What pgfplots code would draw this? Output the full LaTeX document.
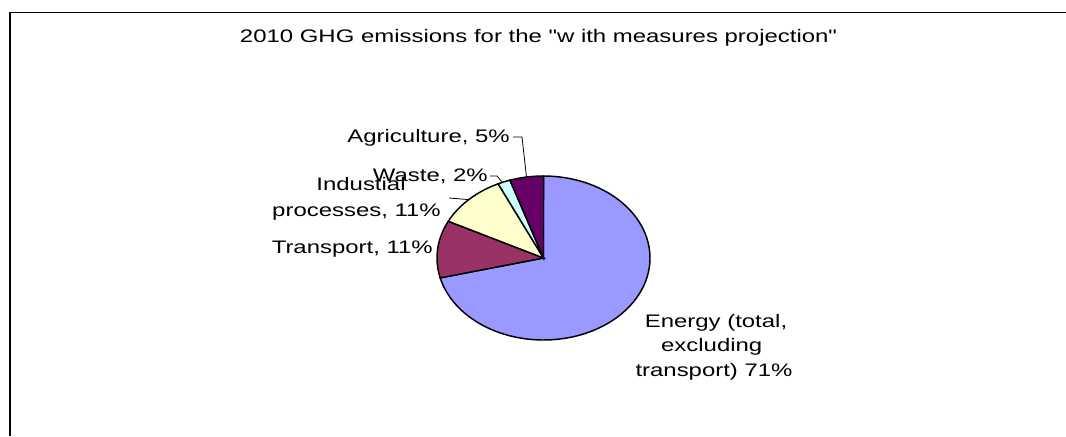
\documentclass[border=0pt]{standalone}
\usepackage{pgfplots}
\pgfplotsset{compat=1.18}
\usepackage{fontspec}
\setmainfont{Liberation Sans}[FakeStretch=1.32, Ligatures=TeXOff]
\newcommand\cf{\fontsize{13.6pt}{18pt}\selectfont}
\tikzset{lbl/.style={inner sep=0, font=\cf}}
\definecolor{cEnergy}{HTML}{9999FF}
\definecolor{cTransport}{HTML}{993366}
\definecolor{cIndustrial}{HTML}{FFFFCC}
\definecolor{cWaste}{HTML}{CCFFFF}
\definecolor{cAgri}{HTML}{660066}
% shares in percent
\def\vEnergy{71.1}
\def\vTransport{11.3}
\def\vIndustrial{10.6}
\def\vWaste{1.9}
\def\vAgri{5.1}
% pie geometry (pixel units)
\def\cx{543.5}
\def\cy{258}
\def\rx{106.5}
\def\ry{82}
\pgfmathsetmacro\aA{90}
\pgfmathsetmacro\aB{\aA-3.6*\vEnergy}
\pgfmathsetmacro\aC{\aB-3.6*\vTransport}
\pgfmathsetmacro\aD{\aC-3.6*\vIndustrial}
\pgfmathsetmacro\aE{\aD-3.6*\vWaste}
\pgfmathsetmacro\aF{\aE-3.6*\vAgri}
\begin{document}
\begin{tikzpicture}
\useasboundingbox (0,0) rectangle (799.5pt,327pt);
\begin{axis}[
  at={(0,0)}, anchor=south west,
  scale only axis, width=799.5pt, height=327pt,
  xmin=0, xmax=1066, ymin=0, ymax=436, y dir=reverse,
  hide axis, clip=false,
]
\draw[black, line width=1pt] (axis cs:10,436) -- (axis cs:10,12.3) -- (axis cs:1066,12.3);
\addplot[fill=cEnergy, draw=black, line width=1.1pt, domain=\aB:\aA, samples=100, variable=\t]
  ({\cx+\rx*cos(t)},{\cy-\ry*sin(t)}) -- (axis cs:\cx,\cy) -- cycle;
\addplot[fill=cTransport, draw=black, line width=1.1pt, domain=\aC:\aB, samples=30, variable=\t]
  ({\cx+\rx*cos(t)},{\cy-\ry*sin(t)}) -- (axis cs:\cx,\cy) -- cycle;
\addplot[fill=cIndustrial, draw=black, line width=1.1pt, domain=\aD:\aC, samples=30, variable=\t]
  ({\cx+\rx*cos(t)},{\cy-\ry*sin(t)}) -- (axis cs:\cx,\cy) -- cycle;
\addplot[fill=cWaste, draw=black, line width=1.1pt, domain=\aE:\aD, samples=10, variable=\t]
  ({\cx+\rx*cos(t)},{\cy-\ry*sin(t)}) -- (axis cs:\cx,\cy) -- cycle;
\addplot[fill=cAgri, draw=black, line width=1.1pt, domain=\aF:\aE, samples=15, variable=\t]
  ({\cx+\rx*cos(t)},{\cy-\ry*sin(t)}) -- (axis cs:\cx,\cy) -- cycle;
% leader lines
\draw[black, line width=0.6pt] (axis cs:513,137) -- (axis cs:522,137) -- (axis cs:526.5,177);
\draw[black, line width=0.6pt] (axis cs:490,176) -- (axis cs:497,176) -- (axis cs:502,182);
\draw[black, line width=0.6pt] (axis cs:449,198) -- (axis cs:468.5,199.6);
% text
\node[lbl, anchor=base] at (axis cs:538.5,42) {2010 GHG emissions for the "w ith measures projection"};
\node[lbl, anchor=base east] at (axis cs:510,142.5) {Agriculture, 5\%};
\node[lbl, anchor=base east] at (axis cs:488,181.7) {Waste, 2\%};
\node[lbl, anchor=base] at (axis cs:361,190) {Industial};
\node[lbl, anchor=base] at (axis cs:356.5,216.7) {processes, 11\%};
\node[lbl, anchor=base east] at (axis cs:433,253.3) {Transport, 11\%};
\node[lbl, anchor=base] at (axis cs:716,327.3) {Energy (total,};
\node[lbl, anchor=base] at (axis cs:711.7,351.7) {excluding};
\node[lbl, anchor=base] at (axis cs:714,376) {transport) 71\%};
\end{axis}
\end{tikzpicture}
\end{document}
